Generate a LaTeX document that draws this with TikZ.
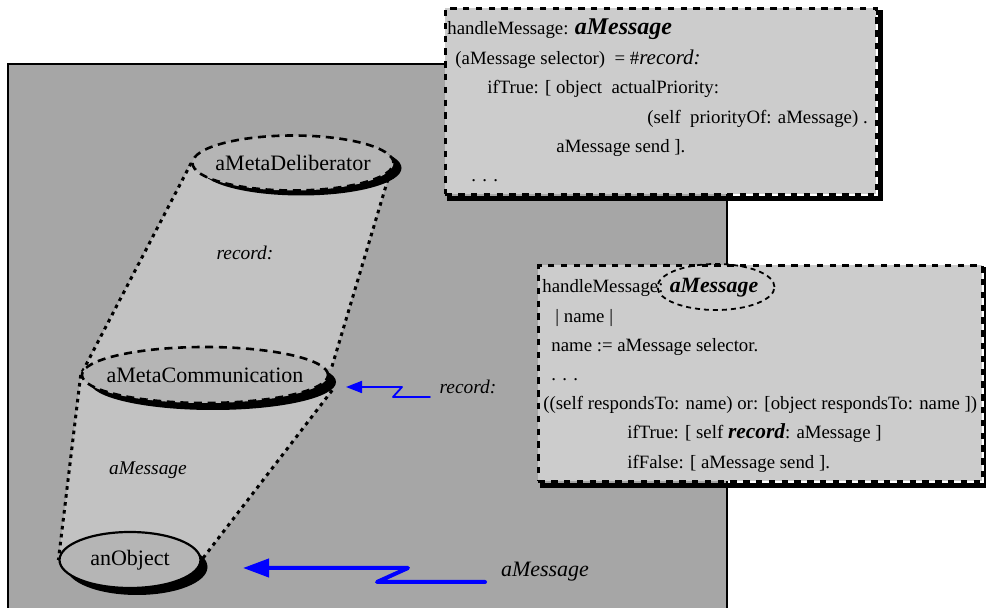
\documentclass[tikz,border=0pt]{standalone}
\usepackage{fontspec}
\setmainfont{Liberation Serif}
\usetikzlibrary{shapes.geometric,arrows.meta,shadows,backgrounds}
\definecolor{panel}{gray}{0.65}
\definecolor{cone}{gray}{0.76}
\definecolor{meta}{gray}{0.71}
\definecolor{note}{gray}{0.8}
\newcommand{\objname}[1]{\makebox[0pt]{#1}}

\tikzset{
  metanode/.style={ellipse, draw, fill=meta, inner sep=0pt, line width=1.3pt,
    dash pattern=on 4pt off 2.8pt, font=\fontsize{11}{13}\selectfont},
  coneline/.style={line width=1.5pt, dash pattern=on 1.8pt off 2.2pt},
  notebox/.style={draw, fill=note, line width=1.4pt, dash pattern=on 3.2pt off 3.2pt,
    inner sep=0pt, anchor=north west,
    general shadow={draw=black, solid, line width=2.6pt, shadow xshift=2pt, shadow yshift=-2pt}},
  codeline/.style={anchor=base west, inner sep=0pt, font=\fontsize{9.4}{11}\selectfont},
  msglabel/.style={inner sep=0pt, font=\fontsize{9.7}{11}\selectfont\itshape},
  bolt/.style={draw=blue, line join=round, line cap=round}
}

\begin{document}
\begin{tikzpicture}[x=0.5pt, y=-0.5pt]
\useasboundingbox (0,0) rectangle (986,608);

\node[metanode, minimum width=100.5pt, minimum height=27.5pt,
  general shadow={fill=black, shadow xshift=4pt, shadow yshift=-2.5pt}] (delib) at (293,163) {\objname{aMetaDeliberator}};
\node[metanode, minimum width=123pt, minimum height=28pt,
  general shadow={fill=black, shadow xshift=4pt, shadow yshift=-3.5pt}] (comm) at (205,375) {\objname{aMetaCommunication}};
\node[metanode, solid, line width=1.1pt, minimum width=70.5pt, minimum height=28pt,
  general shadow={fill=black, shadow xshift=3.5pt, shadow yshift=-3.5pt}] (obj) at (130,560) {\objname{anObject}};

\begin{scope}[on background layer]
\fill[panel] (8,64) rectangle (727,608);
\draw[line width=1pt] (8,608) -- (8,64) -- (727,64) -- (727,608);
\fill[cone] (delib.west) -- (delib.-5) -- ([shift={(5,0)}]comm.3) -- (comm.west) -- cycle;
\fill[cone] (comm.west) -- ([shift={(8,7)}]comm.-4) -- (obj.east) -- (obj.west) -- cycle;
\draw[coneline] (delib.west) -- (comm.west);
\draw[coneline] (delib.-5) -- ([shift={(5,0)}]comm.3);
\draw[coneline] (comm.west) -- (obj.west);
\draw[coneline] ([shift={(8,7)}]comm.-4) -- (obj.east);
\end{scope}

\node[msglabel] (recupper) at (245,253) {record:};
\node[msglabel] (msgupper) at (148,470) {aMessage};
\node[msglabel] (recright) at (468,387) {record:};
\node[msglabel, font=\fontsize{11}{13}\selectfont\itshape] (msgright) at (545,572) {aMessage};

\coordinate (recfrom) at (430,397);
\coordinate (rectip) at (346,387);
\draw[bolt, line width=0.9pt, -{Triangle[length=8pt,width=6pt]}] (recfrom) -- ++(-37,0) -- ++(9,-10) -- (rectip);
\coordinate (msgfrom) at (485,582);
\coordinate (msgtip) at (243,568);
\draw[bolt, line width=2pt, -{Triangle[length=13pt,width=9pt]}] (msgfrom) -- ++(-108,0) -- ++(31,-14) -- (msgtip);

% method of the meta deliberator
\node[notebox, minimum width=215.5pt, minimum height=93pt] (note1) at (444,7) {};
\foreach \x/\txt [count=\i from 0] in {
  447/{handleMessage: {\fontsize{12}{14}\selectfont\bfseries\itshape aMessage}},
  455/{(aMessage selector)\ \ = \#{\fontsize{10.5}{12}\selectfont\itshape record:}},
  487/{ifTrue: [ object\ \ actualPriority:},
  647/{(self\ \ priorityOf: aMessage) .},
  556/{aMessage send ].},
  471/{. . .}}
  \node[codeline] (top\i) at (\x, 35+29.4*\i) {\txt};

% method of the meta communication
\node[notebox, minimum width=222pt, minimum height=108pt] (note2) at (537,264) {};
\foreach \x/\txt [count=\i from 0] in {
  542/{handleMessage: {\fontsize{10.9}{13}\selectfont\bfseries\itshape aMessage}},
  555/{| name |},
  551/{name := aMessage selector.},
  551/{. . .},
  543/{((self respondsTo: name) or: [object respondsTo: name ])},
  627/{ifTrue: [ self {\fontsize{10.7}{13}\selectfont\bfseries\itshape record}: aMessage ]},
  627/{ifFalse: [ aMessage send ].}}
  \node[codeline] (low\i) at (\x, 293+29.2*\i) {\txt};
\node[draw, ellipse, line width=0.9pt, dash pattern=on 2.5pt off 2pt, minimum width=58.5pt,
  minimum height=23pt, inner sep=0pt] (selmark) at (716,287) {};
\end{tikzpicture}
\end{document}
